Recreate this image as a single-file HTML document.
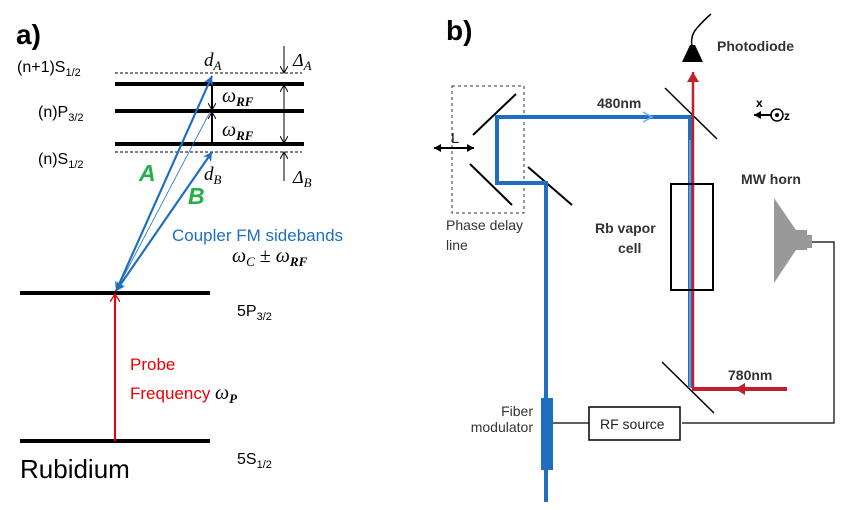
<!DOCTYPE html>
<html><head><meta charset="utf-8"><style>
body{margin:0;background:#fff}
svg{display:block}
text{font-family:"Liberation Sans",sans-serif}
.m{font-family:"Liberation Serif",serif;font-style:italic}
</style></head><body>
<svg width="851" height="510" viewBox="0 0 851 510" xmlns="http://www.w3.org/2000/svg">
<defs>
<marker id="bk" markerWidth="8" markerHeight="8" refX="7" refY="4" orient="auto" markerUnits="userSpaceOnUse"><path d="M0,0 L7,4 L0,8" fill="none" stroke="#000" stroke-width="1"/></marker>
<marker id="bk2" markerWidth="8" markerHeight="8" refX="7" refY="4" orient="auto" markerUnits="userSpaceOnUse"><path d="M0,0 L7,4 L0,8 Z" fill="#000"/></marker>
<marker id="bl" markerWidth="10" markerHeight="10" refX="9" refY="5" orient="auto" markerUnits="userSpaceOnUse"><path d="M0,0 L9,5 L0,10 L3,5Z" fill="#1f6fc0"/></marker>
<marker id="rd" markerWidth="10" markerHeight="10" refX="8" refY="5" orient="auto" markerUnits="userSpaceOnUse"><path d="M0,0 L8,5 L0,10" fill="none" stroke="#e00" stroke-width="1.3"/></marker>
<marker id="rd2" markerWidth="12" markerHeight="12" refX="10" refY="6" orient="auto" markerUnits="userSpaceOnUse"><path d="M0,0 L10,6 L0,12Z" fill="#c0202a"/></marker>
</defs>
<!-- panel a -->
<text x="16" y="44" font-size="28" font-weight="bold">a)</text>
<line x1="115" y1="73" x2="302" y2="73" stroke="#000" stroke-dasharray="3,2" stroke-width="1"/>
<line x1="115" y1="152" x2="302" y2="152" stroke="#000" stroke-dasharray="3,2" stroke-width="1"/>
<line x1="115" y1="84" x2="304" y2="84" stroke="#000" stroke-width="4"/>
<line x1="115" y1="111" x2="304" y2="111" stroke="#000" stroke-width="4"/>
<line x1="115" y1="144" x2="304" y2="144" stroke="#000" stroke-width="4"/>
<line x1="20" y1="293" x2="210" y2="293" stroke="#000" stroke-width="4"/>
<line x1="20" y1="441" x2="210" y2="441" stroke="#000" stroke-width="4"/>
<line x1="212" y1="84" x2="212" y2="110" stroke="#000" stroke-width="2" marker-end="url(#bk)"/>
<line x1="212" y1="146" x2="212" y2="112" stroke="#000" stroke-width="2" marker-end="url(#bk)"/>
<line x1="284" y1="46" x2="284" y2="73" stroke="#000" marker-end="url(#bk)"/>
<line x1="284" y1="181" x2="284" y2="152" stroke="#000" marker-end="url(#bk)"/>
<line x1="284" y1="114" x2="284" y2="85" stroke="#000" marker-end="url(#bk)"/>
<line x1="284" y1="114" x2="284" y2="143" stroke="#000" marker-end="url(#bk)"/>
<line x1="116" y1="291" x2="210" y2="112" stroke="#1f6fc0" stroke-width="0.8"/>
<line x1="116" y1="291" x2="212" y2="76" stroke="#1f6fc0" stroke-width="2" marker-end="url(#bl)"/>
<line x1="212" y1="76" x2="116" y2="291" stroke="#1f6fc0" stroke-width="2" marker-end="url(#bl)"/>
<line x1="116" y1="291" x2="212" y2="152" stroke="#1f6fc0" stroke-width="2" marker-end="url(#bl)"/>
<line x1="212" y1="152" x2="116" y2="291" stroke="#1f6fc0" stroke-width="2" marker-end="url(#bl)"/>
<line x1="115" y1="441" x2="115" y2="294" stroke="#e00" stroke-width="2" marker-end="url(#rd)"/>
<text x="17" y="72" font-size="16">(n+1)S<tspan font-size="11" dy="4">1/2</tspan></text>
<text x="38" y="117" font-size="16">(n)P<tspan font-size="11" dy="4">3/2</tspan></text>
<text x="38" y="164" font-size="16">(n)S<tspan font-size="11" dy="4">1/2</tspan></text>
<text x="204" y="66" font-size="19" class="m">d<tspan font-size="13" dy="4">A</tspan></text>
<text x="204" y="180" font-size="19" class="m">d<tspan font-size="13" dy="4">B</tspan></text>
<text x="293" y="66" font-size="18" class="m">Δ<tspan font-size="13" dy="4">A</tspan></text>
<text x="293" y="183" font-size="18" class="m">Δ<tspan font-size="13" dy="4">B</tspan></text>
<text x="222" y="102" font-size="20" class="m">ω<tspan font-size="13" dy="4" font-weight="bold">RF</tspan></text>
<text x="222" y="136" font-size="20" class="m">ω<tspan font-size="13" dy="4" font-weight="bold">RF</tspan></text>
<text x="139" y="181" font-size="23" font-weight="bold" font-style="italic" fill="#22b04a">A</text>
<text x="188" y="204" font-size="23" font-weight="bold" font-style="italic" fill="#22b04a">B</text>
<text x="172" y="241" font-size="17" fill="#1f6fc0">Coupler FM sidebands</text>
<text x="232" y="262" font-size="20" class="m">ω<tspan font-size="13" dy="4">C</tspan><tspan dy="-4" font-style="normal"> ± </tspan>ω<tspan font-size="13" dy="4" font-weight="bold">RF</tspan></text>
<text x="237" y="316" font-size="16">5P<tspan font-size="11" dy="4">3/2</tspan></text>
<text x="237" y="464" font-size="16">5S<tspan font-size="11" dy="4">1/2</tspan></text>
<text x="130" y="370" font-size="17" fill="#e00">Probe</text>
<text x="130" y="399" font-size="17" fill="#e00">Frequency <tspan class="m" fill="#000" font-size="20">ω</tspan><tspan class="m" fill="#000" font-size="13" font-weight="bold" dy="4">P</tspan></text>
<text x="20" y="478" font-size="26">Rubidium</text>
<!-- panel b -->
<text x="446" y="40" font-size="28" font-weight="bold">b)</text>
<path d="M692,46 Q690,36 697,28 Q704,20 711,14" fill="none" stroke="#000" stroke-width="1.5"/>
<path d="M682,62 L703,62 L695,45 L690,45 Z" fill="#000"/>
<text x="717" y="51" font-size="14" font-weight="bold" fill="#333">Photodiode</text>
<rect x="452" y="86" width="72" height="127" fill="none" stroke="#333" stroke-dasharray="3,3"/>
<line x1="473" y1="135" x2="516" y2="94" stroke="#000" stroke-width="2"/>
<line x1="470" y1="164" x2="512" y2="205" stroke="#000" stroke-width="2"/>
<line x1="528" y1="167" x2="572" y2="205" stroke="#000" stroke-width="2"/>
<line x1="665" y1="88" x2="717" y2="139" stroke="#000" stroke-width="1.5"/>
<line x1="662" y1="362" x2="714" y2="413" stroke="#000" stroke-width="1.5"/>
<line x1="454" y1="148" x2="434" y2="148" stroke="#000" stroke-width="2" marker-end="url(#bk2)"/>
<line x1="454" y1="148" x2="474" y2="148" stroke="#000" stroke-width="2" marker-end="url(#bk2)"/>
<text x="451" y="143" font-size="15" fill="#222">L</text>
<path d="M546,502 L546,183 L497,183 L497,117 L690,117 L690,388" fill="none" stroke="#1f6fc0" stroke-width="4"/>
<path d="M643,112 L652,117 L643,122" fill="none" stroke="#6ab0f0" stroke-width="1.5"/>
<line x1="693" y1="388" x2="693" y2="72" stroke="#c0202a" stroke-width="2.5" marker-end="url(#rd2)"/>
<line x1="690" y1="140" x2="690" y2="388" stroke="#8aa8e0" stroke-width="2" opacity="0.7"/>
<line x1="787" y1="389" x2="692" y2="389" stroke="#c0202a" stroke-width="4"/>
<path d="M745,383 L735,389 L745,395Z" fill="#c0202a"/>
<rect x="671" y="184" width="42" height="106" fill="none" stroke="#000" stroke-width="2"/>
<text x="597" y="108" font-size="14" font-weight="bold" fill="#333">480nm</text>
<text x="728" y="380" font-size="14" font-weight="bold" fill="#333">780nm</text>
<text x="595" y="233" font-size="14" font-weight="bold" fill="#333">Rb vapor</text>
<text x="618" y="253" font-size="14" font-weight="bold" fill="#333">cell</text>
<text x="741" y="184" font-size="14" font-weight="bold" fill="#333">MW horn</text>
<line x1="772" y1="115" x2="754" y2="115" stroke="#000" stroke-width="2" marker-end="url(#bk2)"/>
<circle cx="777" cy="115" r="6" fill="none" stroke="#000" stroke-width="1.5"/>
<circle cx="777" cy="115" r="2" fill="#000"/>
<text x="756" y="107" font-size="12" font-weight="bold">x</text>
<text x="784" y="120" font-size="12" font-weight="bold">z</text>
<text x="446" y="230" font-size="14" fill="#333">Phase delay</text>
<text x="446" y="250" font-size="14" fill="#333">line</text>
<path d="M774,198 L796,230 L807,230 L807,250 L796,250 L774,283 Z" fill="#999"/>
<rect x="807" y="235" width="5" height="13" fill="#999"/>
<path d="M812,242 L834,242 L834,423 L682,423" fill="none" stroke="#000" stroke-width="1.2"/>
<line x1="553" y1="423" x2="589" y2="423" stroke="#000" stroke-width="1.2"/>
<rect x="589" y="407" width="91" height="33" fill="#fff" stroke="#000" stroke-width="1.5"/>
<text x="600" y="429" font-size="14" fill="#222">RF source</text>
<rect x="541" y="398" width="12" height="72" fill="#1f6fc0"/>
<text x="533" y="416" font-size="14" fill="#333" text-anchor="end">Fiber</text>
<text x="533" y="432" font-size="14" fill="#333" text-anchor="end">modulator</text>
</svg>
</body></html>
